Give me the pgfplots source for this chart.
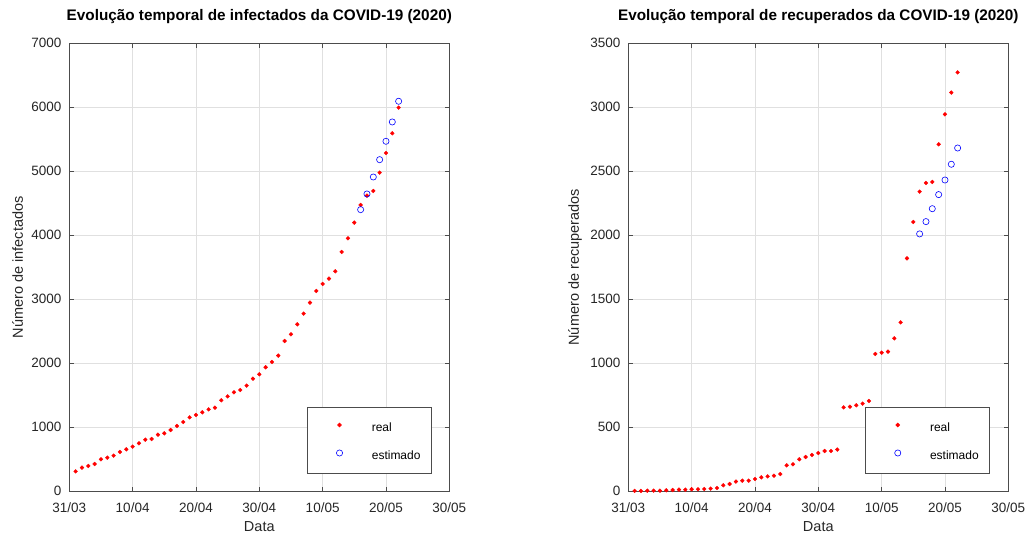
\documentclass[border=0pt]{standalone}
\usepackage{pgfplots}
\pgfplotsset{compat=1.18}
\usepackage{pgfplotstable}
\usepackage{fontspec}
\setmainfont{Liberation Sans}

\pgfplotstableread{
d v
1 312
2 370
3 396
4 427
5 500
6 526
7 557
8 615
9 656
10 698
11 750
12 807
13 818
14 885
15 906
16 958
17 1021
18 1083
19 1156
20 1193
21 1234
22 1281
23 1307
24 1422
25 1484
26 1547
27 1583
28 1651
29 1760
30 1828
31 1938
32 2021
33 2120
34 2349
35 2453
36 2609
37 2776
38 2948
39 3130
40 3240
41 3323
42 3438
43 3740
44 3953
45 4198
46 4474
47 4620
48 4693
49 4979
50 5286
51 5594
52 5995
}\infreal

\pgfplotstableread{
d v
46 4401
47 4646
48 4911
49 5182
50 5469
51 5771
52 6094
}\infest

\pgfplotstableread{
d v
1 3
2 3
3 5
4 5
5 5
6 8
7 10
8 13
9 13
10 16
11 16
12 18
13 21
14 26
15 47
16 57
17 76
18 83
19 83
20 96
21 109
22 117
23 122
24 135
25 203
26 211
27 250
28 268
29 284
30 299
31 315
32 315
33 326
34 656
35 661
36 672
37 685
38 706
39 1073
40 1083
41 1091
42 1195
43 1320
44 1820
45 2104
46 2341
47 2409
48 2417
49 2711
50 2945
51 3115
52 3273
}\recreal

\pgfplotstableread{
d v
46 2011
47 2107
48 2208
49 2318
50 2432
51 2555
52 2682
}\recest

\pgfplotsset{
  mystyle/.style={
    scale only axis,
    width=380pt, height=448pt,
    anchor=south west,
    xmin=0, xmax=60,
    xtick={0,10,...,60},
    xticklabels={31/03,10/04,20/04,30/04,10/05,20/05,30/05},
    grid=major,
    grid style={black!12, line width=0.5pt},
    axis line style={black!70, line width=0.6pt},
    tick style={black!70, line width=0.6pt},
    tick align=inside,
    major tick length=4.5pt,
    /pgf/number format/assume math mode=true,
    /pgf/number format/1000 sep={},
    tick label style={font=\fontsize{13.5}{16}\selectfont, text=black!85},
    xticklabel style={anchor=base, inner sep=0pt, yshift=-21.5pt},
    yticklabel style={anchor=east, inner sep=0pt, xshift=-7.6pt},
    every axis x label/.style={at={(axis description cs:0.5,-0.0797)}, anchor=center, font=\fontsize{14.5}{17}\selectfont, text=black!85},
    title style={font=\bfseries\fontsize{15.3}{18}\selectfont, anchor=base, yshift=16.3pt},
    xlabel={Data},
    legend style={
      at={(0.954,0.040)}, anchor=south east,
      draw=black!70, line width=0.6pt,
      inner xsep=11pt, inner ysep=11pt,
      row sep=12.4pt,
      font=\fontsize{12}{14}\selectfont,
      nodes={inner sep=0pt, text height=13.3pt, text depth=2.3pt},
    },
    legend cell align=left,
    legend image code/.code={\path (0pt,0pt) (53pt,0pt); \draw[##1] plot coordinates {(21pt,1.3pt)};},
  },
  realst/.style={only marks, mark=*, mark size=1.9pt, mark options={fill=red, draw=none}, red},
  estst/.style={only marks, mark=o, mark size=3.1pt, mark options={draw=blue, line width=0.6pt}, blue},
}

\begin{document}
\begin{tikzpicture}
\path (0pt,0pt) rectangle (1028pt,534pt);
\begin{axis}[mystyle,
  at={(69.3pt,42.7pt)},
  ymin=0, ymax=7000, ytick={0,1000,...,7000},
  ylabel={Número de infectados},
  every axis y label/.style={at={(axis description cs:-0.136,0.5)}, rotate=90, anchor=center, font=\fontsize{14.5}{17}\selectfont, text=black!85},
  title={Evolução temporal de infectados da COVID-19 (2020)},
]
\addplot[realst] table[x=d,y=v] {\infreal};
\addplot[estst] table[x=d,y=v] {\infest};
\legend{real,estimado}
\end{axis}
\begin{axis}[mystyle,
  at={(628.3pt,42.7pt)},
  ymin=0, ymax=3500, ytick={0,500,...,3500},
  ylabel={Número de recuperados},
  every axis y label/.style={at={(axis description cs:-0.140,0.5)}, rotate=90, anchor=center, font=\fontsize{14.5}{17}\selectfont, text=black!85},
  title={Evolução temporal de recuperados da COVID-19 (2020)},
  legend style={at={(0.952,0.040)}},
]
\addplot[realst] table[x=d,y=v] {\recreal};
\addplot[estst] table[x=d,y=v] {\recest};
\legend{real,estimado}
\end{axis}
\end{tikzpicture}
\end{document}
